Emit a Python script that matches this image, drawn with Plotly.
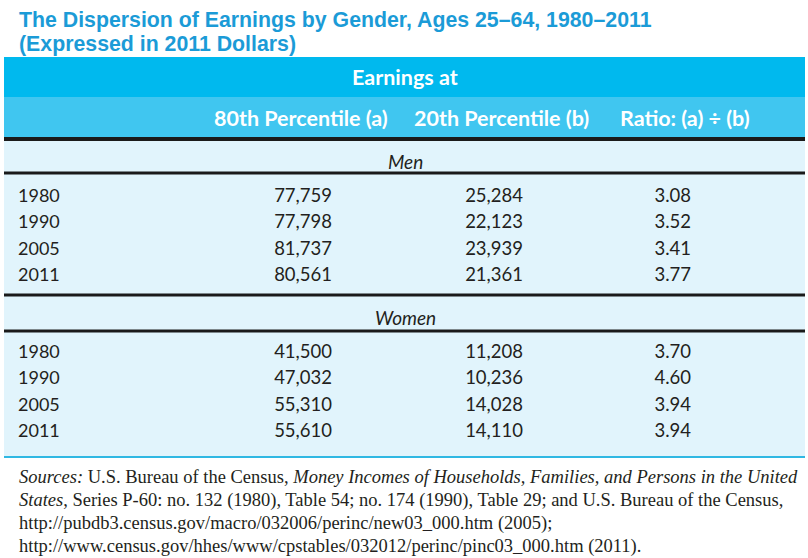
import plotly.graph_objects as go

# ---- data ----
years = ["1980", "1990", "2005", "2011"]
men_p80 = ["77,759", "77,798", "81,737", "80,561"]
men_p20 = ["25,284", "22,123", "23,939", "21,361"]
men_ratio = ["3.08", "3.52", "3.41", "3.77"]
women_p80 = ["41,500", "47,032", "55,310", "55,610"]
women_p20 = ["11,208", "10,236", "14,028", "14,110"]
women_ratio = ["3.70", "4.60", "3.94", "3.94"]
col_headers = ["80th Percentile (a)", "20th Percentile (b)", "Ratio: (a) ÷ (b)"]
group_names = ["Men", "Women"]
title_lines = ["The Dispersion of Earnings by Gender, Ages 25–64, 1980–2011",
               "(Expressed in 2011 Dollars)"]
source_lines = [
    "<i>Sources:</i> U.S. Bureau of the Census, <i>Money Incomes of Households, Families, and Persons in the United</i>",
    "<i>States</i>, Series P-60: no. 132 (1980), Table 54; no. 174 (1990), Table 29; and U.S. Bureau of the Census,",
    "http://pubdb3.census.gov/macro/032006/perinc/new03_000.htm (2005);",
    "http://www.census.gov/hhes/www/cpstables/032012/perinc/pinc03_000.htm (2011).",
]

# ---- layout constants ----
W, H = 808, 558
TFONT = "Lato"
TXT = "#231f20"
x_year, x_c1, x_c2, x_c3 = 18, 332, 523, 691
men_rows_y = [197, 223, 250, 276]
women_rows_y = [353, 379, 406, 432]
source_y = [477, 500, 523, 546]

fig = go.Figure()

shapes = [
    dict(type="rect", x0=4, x1=805, y0=57, y1=97, fillcolor="#00b9ee", line_width=0, layer="below"),
    dict(type="rect", x0=4, x1=805, y0=97, y1=137, fillcolor="#40c6f0", line_width=0, layer="below"),
    dict(type="rect", x0=4, x1=805, y0=140, y1=456, fillcolor="#e1f4fc", line_width=0, layer="below"),
    dict(type="line", x0=4, x1=805, y0=139, y1=139, line=dict(color="#1a1a1a", width=4)),
    dict(type="line", x0=4, x1=805, y0=173, y1=173, line=dict(color="#1a1a1a", width=3)),
    dict(type="line", x0=4, x1=805, y0=295, y1=295, line=dict(color="#1a1a1a", width=3)),
    dict(type="line", x0=4, x1=805, y0=331, y1=331, line=dict(color="#1a1a1a", width=3)),
    dict(type="line", x0=4, x1=805, y0=457, y1=457, line=dict(color="#2fb8e3", width=2)),
]

def add_rows(ys, p80, p20, ratio):
    fig.add_trace(go.Scatter(x=[x_year] * len(ys), y=ys, text=years, mode="text",
                             textposition="middle right",
                             textfont=dict(family=TFONT, size=18, color=TXT), hoverinfo="skip"))
    for xpos, vals in ((x_c1, p80), (x_c2, p20), (x_c3, ratio)):
        fig.add_trace(go.Scatter(x=[xpos] * len(ys), y=ys, text=vals, mode="text",
                                 textposition="middle left",
                                 textfont=dict(family=TFONT, size=18.5, color=TXT), hoverinfo="skip"))

add_rows(men_rows_y, men_p80, men_p20, men_ratio)
add_rows(women_rows_y, women_p80, women_p20, women_ratio)

annotations = []
for i, line in enumerate(title_lines):
    annotations.append(dict(x=17, y=[20, 44][i], text=line, showarrow=False, xanchor="left", yanchor="middle",
                            font=dict(family="Liberation Sans", size=21.3, color="#1b9bd7", weight="bold")))
annotations.append(dict(x=405, y=77, text="Earnings at", showarrow=False, xanchor="center", yanchor="middle",
                        font=dict(family=TFONT, size=21.5, color="white", weight="bold")))
for xc, t in zip([301, 501, 685], col_headers):
    annotations.append(dict(x=xc, y=118, text=t, showarrow=False, xanchor="center", yanchor="middle",
                            font=dict(family=TFONT, size=21.5, color="white", weight="bold")))
for yc, g in zip([161, 317], group_names):
    annotations.append(dict(x=405, y=yc, text="<i>" + g + "</i>", showarrow=False, xanchor="center", yanchor="middle",
                            font=dict(family=TFONT, size=19, color=TXT)))
for yc, t in zip(source_y, source_lines):
    annotations.append(dict(x=17, y=yc, text=t, showarrow=False, xanchor="left", yanchor="middle", align="left",
                            font=dict(family="Liberation Serif", size=18.5, color=TXT)))

fig.update_layout(
    width=W, height=H, margin=dict(l=0, r=0, t=0, b=0),
    paper_bgcolor="white", plot_bgcolor="white", showlegend=False,
    xaxis=dict(range=[0, W], visible=False, fixedrange=True),
    yaxis=dict(range=[H, 0], visible=False, fixedrange=True),
    shapes=shapes, annotations=annotations,
)
fig.write_html("out.html", config={"displayModeBar": False},
               post_script="document.body.style.margin='0';document.body.style.overflow='hidden';")
